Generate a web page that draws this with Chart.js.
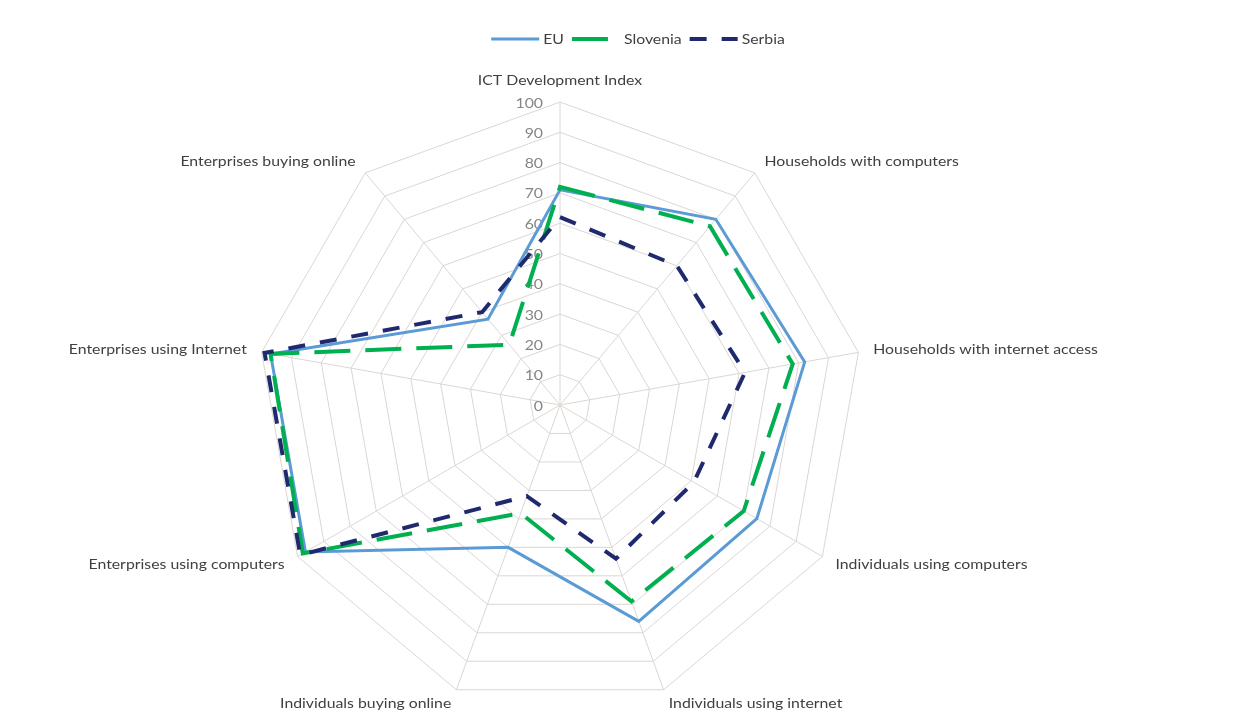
<!DOCTYPE html>
<html>
<head>
<meta charset="utf-8">
<title>ICT indicators: EU, Slovenia, Serbia</title>
<script src="https://cdn.jsdelivr.net/npm/chart.js@4.4.1/dist/chart.umd.min.js"></script>
<style>
  html, body { margin: 0; padding: 0; background: #ffffff; }
  #wrap { width: 1241px; height: 713px; position: relative; overflow: hidden; }
</style>
</head>
<body>
<div id="wrap"><canvas id="chart"></canvas></div>
<script>
// Indicators shown on the radar axes (clockwise from the top)
const categories = [
  'ICT Development Index',
  'Households with computers',
  'Households with internet access',
  'Individuals using computers',
  'Individuals using internet',
  'Individuals buying online',
  'Enterprises using computers',
  'Enterprises using Internet',
  'Enterprises buying online'
];

// Values per country (0–100)
const euValues       = [71, 80, 82, 75, 76, 50, 97, 97, 37];
const sloveniaValues = [72, 77, 78, 70, 69, 38, 98, 97, 26];
const serbiaValues   = [62, 60, 62, 51, 54, 32, 99, 99, 40];

// Radial axis tick labels
const tickValues = [0, 10, 20, 30, 40, 50, 60, 70, 80, 90, 100];

const FONT = 'Lato, "Open Sans", "DejaVu Sans", sans-serif';
const TEXT_COLOR = '#3f3f3f';
const TICK_COLOR = '#858585';
const GRID_COLOR = '#dcd6d2';
const TEXT_STRETCH = 1.13;   // slightly wide lettering

// draws one string with a horizontal stretch around its anchor point
function wideText(ctx, str, x, y) {
  ctx.save();
  ctx.translate(x, y);
  ctx.scale(TEXT_STRETCH, 1);
  ctx.fillText(str, 0, 0);
  ctx.restore();
}

// Tick labels, category labels and the legend row, placed from the radial scale
const radarText = {
  id: 'radarText',
  beforeDatasetsDraw(chart) {
    const r = chart.scales.r;
    const ctx = chart.ctx;
    ctx.save();
    ctx.font = '14px ' + FONT;
    ctx.fillStyle = TICK_COLOR;
    ctx.textAlign = 'right';
    ctx.textBaseline = 'middle';
    tickValues.forEach(v => {
      const d = r.getDistanceFromCenterForValue(v);
      wideText(ctx, String(v), r.xCenter - 17, r.yCenter - d + 1);
    });
    ctx.restore();
  },
  afterDraw(chart) {
    const r = chart.scales.r;
    const ctx = chart.ctx;
    ctx.save();
    ctx.font = '14px ' + FONT;
    ctx.fillStyle = TEXT_COLOR;

    // category labels just outside the outer ring
    categories.forEach((name, i) => {
      const p = r.getPointPosition(i, r.drawingArea + 15);
      const deg = Math.round(((p.angle + Math.PI / 2) * 180 / Math.PI + 360) % 360);
      if (deg === 0 || deg === 180) ctx.textAlign = 'center';
      else ctx.textAlign = deg < 180 ? 'left' : 'right';
      ctx.textBaseline = deg === 0 ? 'bottom' : 'middle';
      wideText(ctx, name, p.x, p.y);
    });

    // legend row
    const lineLen = 48, gapText = 4, spacing = 8, legendY = 39, legendCenter = 638;
    const items = chart.data.datasets.map(ds => ({ ds, w: ctx.measureText(ds.label).width * TEXT_STRETCH }));
    const total = items.reduce((s, it) => s + lineLen + gapText + it.w, 0) + spacing * (items.length - 1);
    let x = legendCenter - total / 2;
    ctx.textAlign = 'left';
    ctx.textBaseline = 'middle';
    items.forEach(it => {
      ctx.save();
      ctx.strokeStyle = it.ds.borderColor;
      ctx.lineWidth = it.ds.borderWidth;
      ctx.setLineDash(it.ds.borderDash || []);
      ctx.lineCap = 'butt';
      ctx.beginPath();
      ctx.moveTo(x, legendY);
      ctx.lineTo(x + lineLen, legendY);
      ctx.stroke();
      ctx.restore();
      wideText(ctx, it.ds.label, x + lineLen + gapText, legendY);
      x += lineLen + gapText + it.w + spacing;
    });
    ctx.restore();
  }
};

new Chart(document.getElementById('chart'), {
  type: 'radar',
  data: {
    labels: categories,
    datasets: [
      { label: 'EU', data: euValues, borderColor: '#5b9bd5', borderWidth: 3, order: 3 },
      { label: 'Slovenia', data: sloveniaValues, borderColor: '#00b050', borderWidth: 4, borderDash: [36, 15], order: 2 },
      { label: 'Serbia', data: serbiaValues, borderColor: '#1f2a6e', borderWidth: 4, borderDash: [17, 15], order: 1 }
    ]
  },
  options: {
    responsive: true,
    maintainAspectRatio: false,
    animation: false,
    layout: { padding: { top: 102, bottom: 5, left: 0, right: 121 } },
    elements: {
      line: { tension: 0, fill: false, borderJoinStyle: 'miter' },
      point: { radius: 0, hoverRadius: 0 }
    },
    plugins: {
      legend: { display: false },
      tooltip: { enabled: false }
    },
    scales: {
      r: {
        min: 0,
        max: 100,
        ticks: { stepSize: 10, display: false },
        grid: { color: GRID_COLOR, lineWidth: 1 },
        angleLines: { color: GRID_COLOR, lineWidth: 1 },
        pointLabels: { display: false }
      }
    }
  },
  plugins: [radarText]
});
</script>
</body>
</html>
